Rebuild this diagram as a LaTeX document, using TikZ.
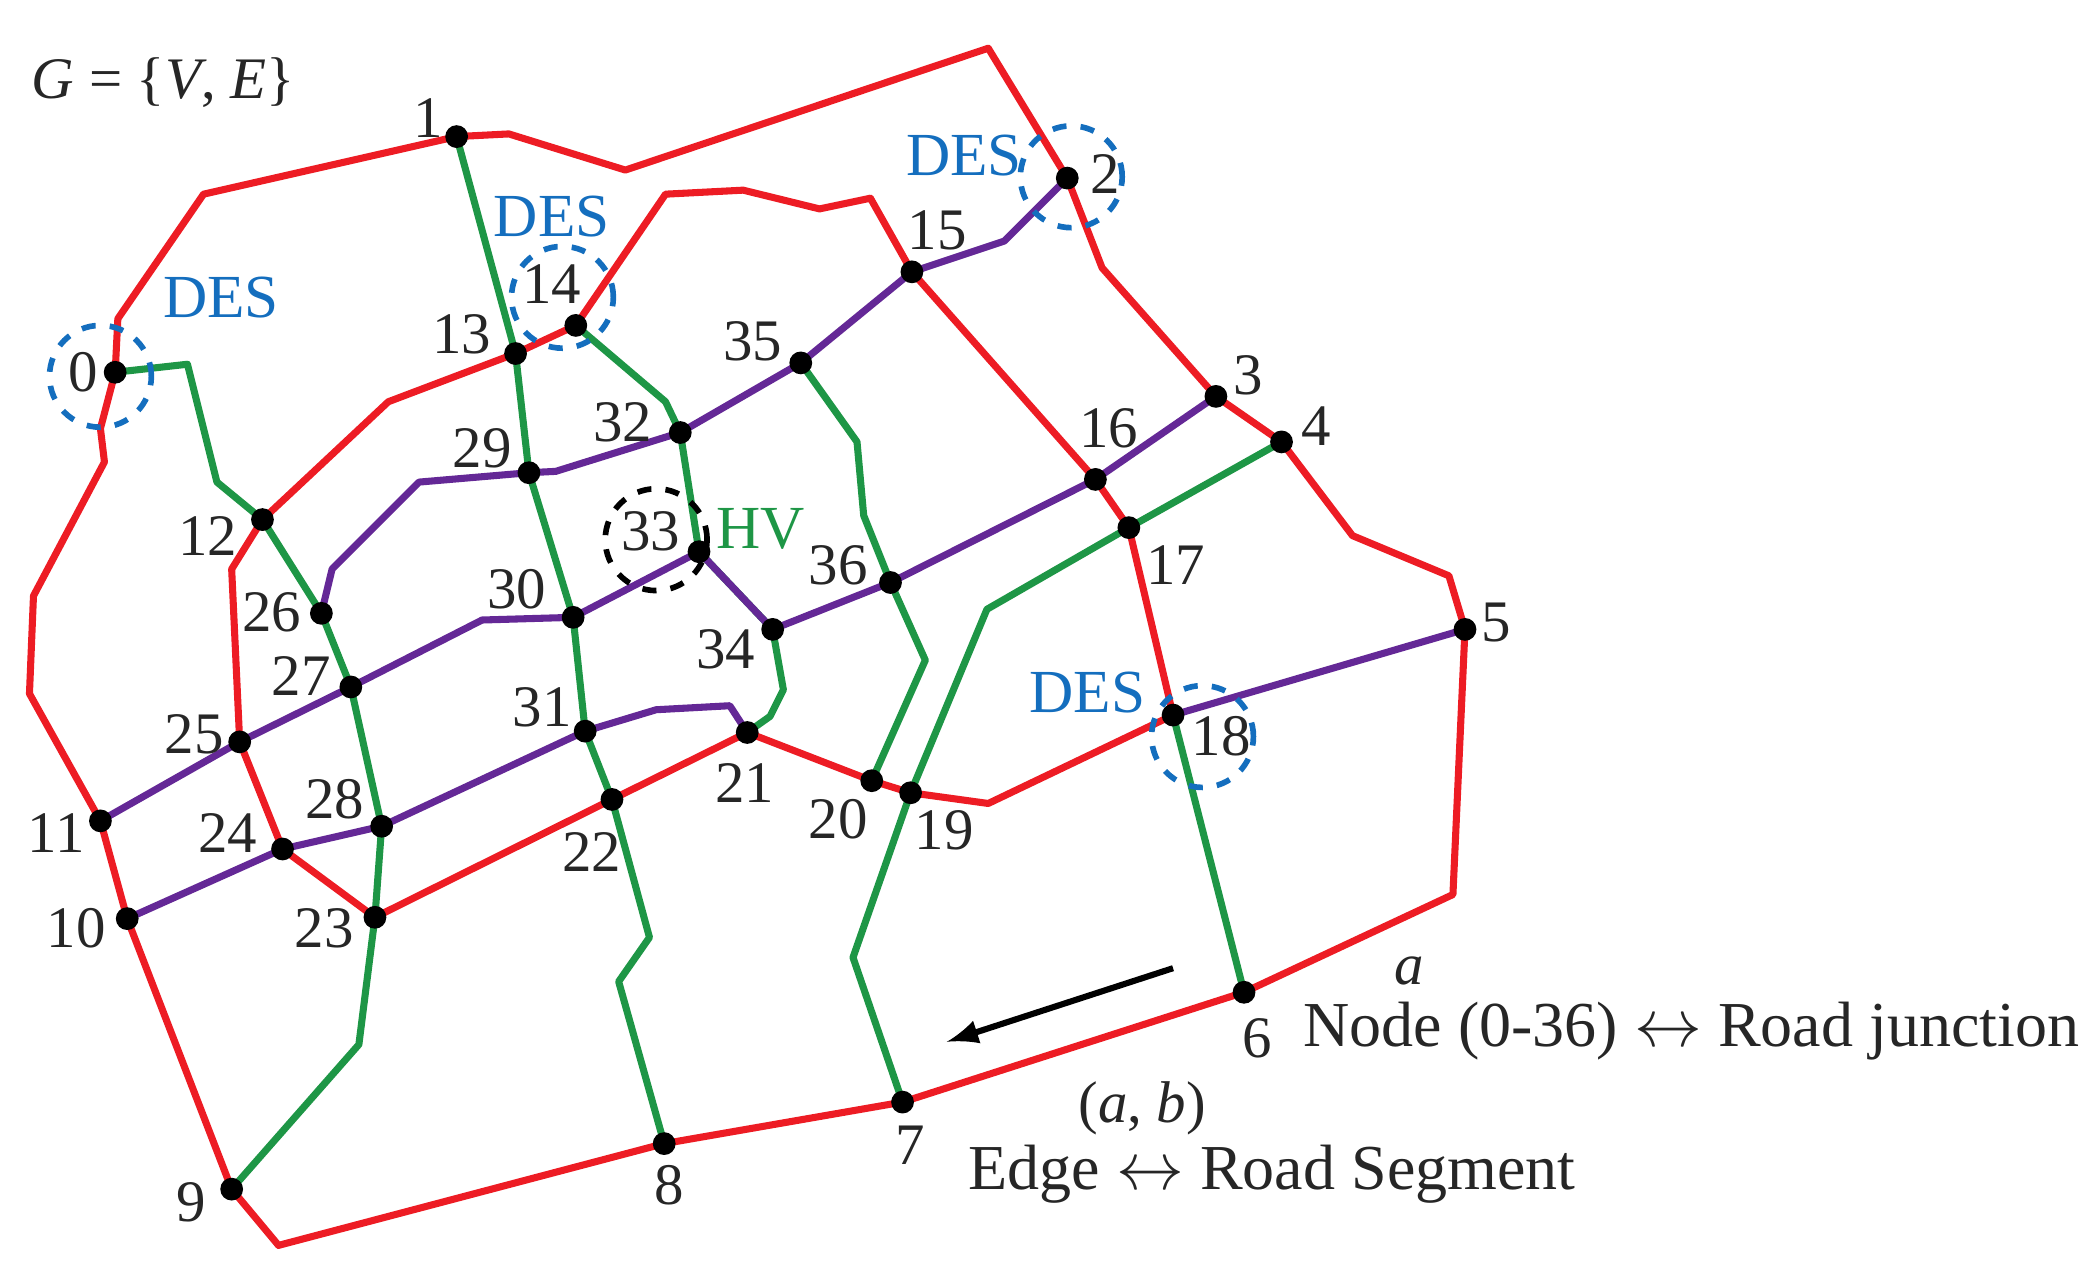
\documentclass[tikz,border=0pt]{standalone}
\usepackage{fontspec}
\setmainfont{Liberation Serif}
\definecolor{rd}{RGB}{237,28,36}
\definecolor{gr}{RGB}{30,150,70}
\definecolor{pu}{RGB}{100,40,150}
\definecolor{bl}{RGB}{20,110,190}
\begin{document}
\begin{tikzpicture}[x=0.01cm,y=-0.01cm,
  dot/.style={circle,fill=black,inner sep=0pt,minimum size=0.17cm},
  lab/.style={font=\fontsize{12.5}{14}\selectfont,text=black!85},
  big/.style={font=\fontsize{13.6}{16}\selectfont,text=black!85},
  red line/.style={rd,line width=1.5pt,line join=round},
  green line/.style={gr,line width=1.5pt,line join=round},
  purple line/.style={pu,line width=1.5pt,line join=round},
  ring/.style={bl,dashed,line width=1.2pt,circle,minimum size=0.76cm,inner sep=0pt,draw},
  des/.style={bl,font=\fontsize{13}{15}\selectfont}]
\useasboundingbox (0,0) rectangle (1560,954);
\foreach \i/\x/\y in {0/86/278,1/341/102,2/797/133,3/908/296,4/957/330,5/1094/470,6/929/741,7/674/823,8/496/854,9/173/888,10/95/686,11/75/613,12/196/388,13/385/264,14/430/243,15/681/203,16/818/358,17/843/394,18/876/534,19/680/592,20/651/583,21/558/547,22/457/597,23/280/685,24/211/634,25/179/554,26/240/458,27/262/513,28/285/617,29/395/353,30/428/461,31/437/546,32/508/323,33/522/412,34/577/470,35/598/271,36/665/435}
  \coordinate (n\i) at (\x,\y);
% red
\draw[red line] (n0) -- (88,238) -- (152,145) -- (n1) -- (380,100) -- (467,127) -- (738,36) -- (n2) -- (823,200) -- (n3) -- (n4) -- (1010,400) -- (1082,430) -- (n5) -- (1085,668) -- (n6) -- (n7) -- (n8) -- (208,930) -- (n9) -- (n10) -- (n11) -- (22,518) -- (25,445) -- (78,345) -- (75,320) -- cycle;
\draw[red line] (n12) -- (290,300) -- (n13) -- (n14) -- (497,145) -- (555,142) -- (612,156) -- (650,148) -- (n15) -- (n16) -- (n17) -- (n18) -- (738,600) -- (n19) -- (n20) -- (n21) -- (n22) -- (n23) -- (n24) -- (n25) -- (173,425) -- cycle;
% green
\draw[green line] (n1) -- (n13) -- (n29) -- (n30) -- (n31) -- (n22) -- (485,700) -- (462,733) -- (n8);
\draw[green line] (n0) -- (140,272) -- (162,360) -- (n12) -- (n26) -- (n27) -- (n28) -- (n23) -- (268,780) -- (n9);
\draw[green line] (n14) -- (497,300) -- (n32) -- (n33) -- (n34) -- (585,515) -- (575,535) -- (n21);
\draw[green line] (n35) -- (640,330) -- (645,385) -- (n36) -- (691,493) -- (n20);
\draw[green line] (n4) -- (n17) -- (737,455) -- (n19) -- (637,715) -- (n7);
\draw[green line] (n18) -- (n6);
% purple
\draw[purple line] (n2) -- (750,180) -- (n15) -- (n35) -- (n32) -- (415,352) -- (n29) -- (313,360) -- (248,425) -- (n26);
\draw[purple line] (n3) -- (n16) -- (n36) -- (n34) -- (n33) -- (n30) -- (360,463) -- (n27) -- (n25) -- (n11);
\draw[purple line] (n5) -- (n18);
\draw[purple line] (n21) -- (545,527) -- (490,530) -- (n31) -- (n28) -- (n24) -- (n10);
\foreach \i in {0,...,36} \node[dot] at (n\i) {};
% labels
\foreach \i/\x/\y in {0/62/278,1/320/88,2/825/130,3/932/280,4/983/318,5/1117/465,6/939/775,7/680/855,8/500/885,9/143/898,10/57/693,11/42/622,12/155/400,13/345/250,14/412/212,15/700/172,16/828/320,17/878/422,18/912/550,19/705/620,20/626/612,21/556/585,22/442/636,23/242/693,24/170/622,25/145/548,26/203/457,27/225/505,28/250/597,29/360/335,30/386/440,31/405/528,32/465/315,33/486/397,34/542/485,35/562/255,36/626/422}
  \node[lab] (l\i) at (\x,\y) {\i};
\node[ring] (r0) at (75,281) {};
\node[ring] (r14) at (420,222) {};
\node[ring] (r2) at (800,132) {};
\node[ring] (r18) at (898,550) {};
\node[ring,black] (r33) at (490,403) {};
\node[des] (d0) at (165,222) {DES};
\node[des] (d14) at (412,162) {DES};
\node[des] (d2) at (720,116) {DES};
\node[des] (d18) at (812,517) {DES};
\node[gr,font=\fontsize{13}{15}\selectfont] (hv) at (568,395) {HV};
\node[lab] (g) at (122,62) {\textit{G} = \{\textit{V}, \textit{E}\}};
\node[lab] (a) at (1052,725) {\textit{a}};
\node[big] (nd) at (1263,770) {Node (0-36) $\leftrightarrow$ Road junction};
\node[lab] (ab) at (853,828) {(\textit{a}, \textit{b})};
\node[big] (ed) at (950,877) {Edge $\leftrightarrow$ Road Segment};
\coordinate (as) at (876,723);
\coordinate (ae) at (707,778);
\draw[-latex,line width=1.3pt] (as) -- (ae);
\end{tikzpicture}
\end{document}
